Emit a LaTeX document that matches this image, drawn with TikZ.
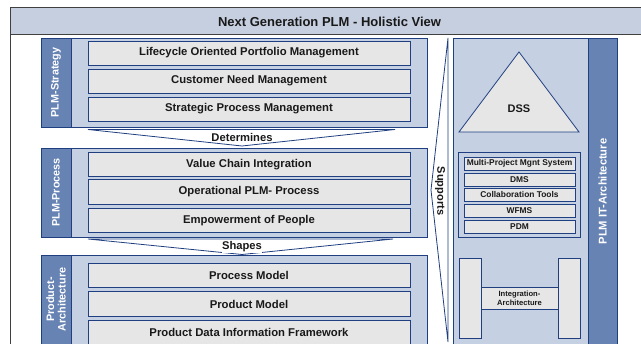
\documentclass[tikz,border=0pt]{standalone}
\usepackage{fontspec}
\setmainfont{Liberation Sans}
\usetikzlibrary{shapes.geometric}
\definecolor{lightbg}{HTML}{C5D0E3}
\definecolor{titlebg}{HTML}{C6CFE0}
\definecolor{stripbg}{HTML}{6783B3}
\definecolor{boxbg}{HTML}{E6E6E6}
\definecolor{bluebd}{HTML}{1F3F80}
\definecolor{framebd}{HTML}{404040}
\tikzset{
  grp/.style={draw=bluebd, fill=lightbg, line width=0.8pt, inner sep=0pt},
  strip/.style={draw=bluebd, fill=stripbg, line width=0.8pt, inner sep=0pt},
  stripbox/.style={text=white, font=\fontsize{10.8}{11.5}\selectfont\bfseries, rotate=90, align=center, inner sep=0pt},
  boxst/.style={draw=bluebd, fill=boxbg, line width=0.8pt, minimum width=322pt, inner sep=0pt,
    font=\fontsize{11.3}{13}\selectfont\bfseries, text=black!90},
  sysbox/.style={draw=bluebd, fill=boxbg, line width=0.8pt, minimum width=111pt, minimum height=13pt, inner sep=0pt,
    font=\fontsize{8.4}{9}\selectfont\bfseries, text=black!90},
  chev/.style={draw=bluebd, fill=white, line width=0.8pt},
  chevtext/.style={font=\fontsize{11.2}{12}\selectfont\bfseries, text=black!90, inner sep=0.5pt, fill=white}
}
\begin{document}
\begin{tikzpicture}[x=1pt,y=-1pt]
\useasboundingbox (0,0) rectangle (641,344);
\clip (0,0) rectangle (641,344);
% outer frame
\node[draw=framebd, line width=1pt, minimum width=660pt, minimum height=340pt, inner sep=0pt] (frame) at (340,178) {};
\node[draw=framebd, fill=titlebg, line width=1pt, minimum width=660pt, minimum height=27pt, inner sep=0pt] (title) at (340,21.5) {};
\node[font=\fontsize{13}{14}\selectfont\bfseries, text=black!90] (titletext) at (329.5,21.5) {Next Generation PLM - Holistic View};

% PLM-Strategy
\node[grp, minimum width=386pt, minimum height=89pt] (g1) at (234,82.5) {};
\node[strip, minimum width=30pt, minimum height=89pt] (s1) at (56,82.5) {};
\node[stripbox] (s1t) at (s1.center) {PLM-Strategy};
\node[boxst, minimum height=24pt] (a1) at (249,53) {Lifecycle Oriented Portfolio Management};
\node[boxst, minimum height=24pt] (a2) at (249,81) {Customer Need Management};
\node[boxst, minimum height=24pt] (a3) at (249,109) {Strategic Process Management};

% Determines
\coordinate (d1) at (88,129.5);
\coordinate (d2) at (395,129.5);
\coordinate (d3) at (242,146);
\draw[chev] (d1) -- (d2) -- (d3) -- cycle;
\node[chevtext] (dt) at (242,137.5) {Determines};

% PLM-Process
\node[grp, minimum width=386pt, minimum height=89pt] (g2) at (234,192.5) {};
\node[strip, minimum width=30pt, minimum height=89pt] (s2) at (56,192.5) {};
\node[stripbox] (s2t) at (s2.center) {PLM-Process};
\node[boxst, minimum height=24.5pt] (p1) at (249,164.5) {Value Chain Integration};
\node[boxst, minimum height=24.5pt] (p2) at (249,192) {Operational PLM- Process};
\node[boxst, minimum height=24.5pt] (p3) at (249,220.5) {Empowerment of People};

% Shapes
\coordinate (h1) at (88,239);
\coordinate (h2) at (393,239);
\coordinate (h3) at (242,254.5);
\draw[chev] (h1) -- (h2) -- (h3) -- cycle;
\node[chevtext] (ht) at (242,247) {Shapes};

% Product-Architecture
\node[grp, minimum width=386pt, minimum height=95pt] (g3) at (234,302.5) {};
\node[strip, minimum width=30pt, minimum height=95pt] (s3) at (56,302.5) {};
\node[stripbox] (s3t) at (56,299.5) {Product-\\Architecture};
\node[boxst, minimum height=24.5pt] (r1) at (249,275.5) {Process Model};
\node[boxst, minimum height=24.5pt] (r2) at (249,304) {Product Model};
\node[boxst, minimum height=24.5pt] (r3) at (249,332.5) {Product Data Information Framework};

% Supports
\coordinate (u1) at (448,38);
\coordinate (u2) at (448,342);
\coordinate (u3) at (431,190);
\draw[chev] (u1) -- (u2) -- (u3) -- cycle;
\node[font=\fontsize{11}{12}\selectfont\bfseries, text=black!90, rotate=-90, inner sep=0.5pt] (ut) at (440,191) {Supports};

% Right panel
\node[grp, minimum width=135pt, minimum height=312pt] (rp) at (520.5,194) {};
\node[strip, minimum width=29pt, minimum height=312pt] (rs) at (602.5,194) {};
\node[stripbox, font=\fontsize{11.2}{12}\selectfont\bfseries] (rst) at (602.5,191.5) {PLM IT-Architecture};

% DSS
\coordinate (t1) at (519,52);
\coordinate (t2) at (579,132);
\coordinate (t3) at (459,132);
\draw[draw=bluebd, fill=boxbg, line width=0.8pt] (t1) -- (t2) -- (t3) -- cycle;
\node[font=\fontsize{11}{12}\selectfont\bfseries, text=black!90] (dss) at (519,108.5) {DSS};

% System stack
\node[draw=bluebd, fill=lightbg, line width=0.8pt, minimum width=122pt, minimum height=85pt, inner sep=0pt] (stack) at (519,194.5) {};
\node[sysbox] (m1) at (519.5,163.5) {Multi-Project Mgnt System};
\node[sysbox] (m2) at (519.5,179.5) {DMS};
\node[sysbox] (m3) at (519.5,195) {Collaboration Tools};
\node[sysbox] (m4) at (519.5,211) {WFMS};
\node[sysbox] (m5) at (519.5,226.5) {PDM};

% Integration architecture
\node[draw=bluebd, fill=boxbg, line width=0.8pt, minimum width=22pt, minimum height=80pt, inner sep=0pt] (ia1) at (470,298) {};
\node[draw=bluebd, fill=boxbg, line width=0.8pt, minimum width=22pt, minimum height=80pt, inner sep=0pt] (ia2) at (569,298) {};
\node[draw=bluebd, fill=boxbg, line width=0.8pt, minimum width=77pt, minimum height=22pt, inner sep=0pt,
  font=\fontsize{7.6}{8.6}\selectfont\bfseries, text=black!90, align=center] (ia3) at (519.5,298) {Integration-\\Architecture};
\end{tikzpicture}
\end{document}
